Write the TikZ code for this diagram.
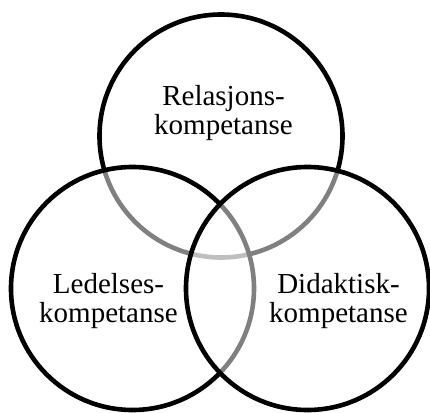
\documentclass[tikz,border=0pt]{standalone}
\usepackage{fontspec}
\setmainfont{Liberation Serif}
\begin{document}
\begin{tikzpicture}[x=1pt,y=-1pt,
  ring/.style={circle, draw=black, line width=4.6pt, fill=white, fill opacity=0.5, draw opacity=1, minimum size=243pt, inner sep=0pt, outer sep=0pt},
  label/.style={align=center, inner sep=0pt, font=\fontsize{29}{29}\selectfont}]
\useasboundingbox (0,0) rectangle (430,412);
\node[ring] (top) at (221,136) {};
\node[ring] (left) at (132.5,288.5) {};
\node[ring] (right) at (307.5,288.5) {};
\node[label] (ttop) at (223.5,113) {Relasjons-\\kompetanse};
\node[label] (tleft) at (108.5,301) {Ledelses-\\kompetanse};
\node[label] (tright) at (338.5,301) {Didaktisk-\\kompetanse};
\end{tikzpicture}
\end{document}
